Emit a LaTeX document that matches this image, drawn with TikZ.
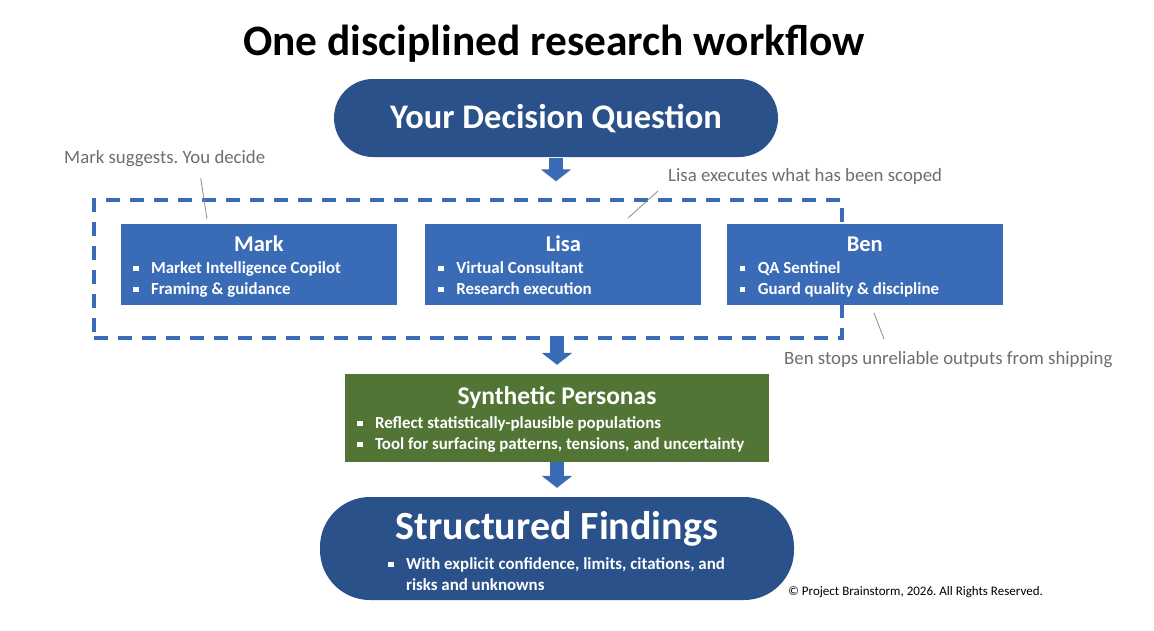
\documentclass[tikz,border=0pt]{standalone}
\usepackage{fontspec}
\setmainfont{Carlito}
\usetikzlibrary{arrows.meta, positioning, calc}
\definecolor{deepblue}{HTML}{2A5189}
\definecolor{midblue}{HTML}{3A6BB7}
\definecolor{leafgreen}{HTML}{527535}
\definecolor{notegray}{HTML}{6E6E6E}
\newcommand{\sqbul}{\strut\rule[0.28ex]{5.5pt}{5.5pt}\hspace{12.5pt}}
\newcommand{\sqgap}{\strut\hspace*{18pt}}
\frenchspacing

\begin{document}
\begin{tikzpicture}[x=1pt, y=-1pt,
    pill/.style={rectangle, fill=deepblue, inner sep=0pt},
    rolebox/.style={rectangle, fill=midblue, minimum width=276pt, minimum height=81pt, inner sep=0pt},
    boxtitle/.style={text=white, inner sep=0pt, font=\bfseries\fontsize{22.5}{26}\selectfont},
    bullets/.style={text=white, align=left, anchor=west, inner sep=0pt, font=\bfseries\fontsize{16.9}{21}\selectfont},
    note/.style={text=notegray, anchor=west, inner sep=0pt, font=\fontsize{18.8}{22}\selectfont},
    callout/.style={draw=notegray!80, line width=0.8pt},
    blockarr/.style={draw=midblue, line width=14pt, -{Triangle[width=30pt, length=12pt]}}]

  \useasboundingbox[fill=white] (0,0) rectangle (1154,630);

  % Title
  \node[inner sep=0pt, font=\bfseries\fontsize{43.4}{50}\selectfont] (title) at (554,44) {One disciplined research workflow};

  % Decision question
  \node[pill, minimum width=444pt, minimum height=78pt, rounded corners=39pt] (question) at (556,118) {};
  \node[text=white, inner sep=0pt, font=\bfseries\fontsize{34.5}{40}\selectfont] (questiontxt) at ($(question)+(0,1)$) {Your Decision Question};

  % Team frame
  \node[draw=midblue, line width=3.5pt, dash pattern=on 14pt off 10pt, minimum width=748pt, minimum height=138pt, inner sep=0pt] (team) at (468,269) {};

  % Roles
  \node[rolebox] (mark) at (259,264.5) {};
  \node[rolebox, right=28pt of mark] (lisa) {};
  \node[rolebox, right=25pt of lisa] (ben) {};

  \node[boxtitle] (marktitle) at ($(mark.north)+(0,20)$) {Mark};
  \node[bullets] (markitems) at ($(mark.north west)+(12,56)$) {\sqbul Market Intelligence Copilot\\ \sqbul Framing \& guidance};

  \node[boxtitle] (lisatitle) at ($(lisa.north)+(0,20)$) {Lisa};
  \node[bullets] (lisaitems) at ($(lisa.north west)+(13,56)$) {\sqbul Virtual Consultant\\ \sqbul Research execution};

  \node[boxtitle] (bentitle) at ($(ben.north)+(0,20)$) {Ben};
  \node[bullets] (benitems) at ($(ben.north west)+(13,56)$) {\sqbul QA Sentinel\\ \sqbul Guard quality \& discipline};

  % Synthetic personas
  \node[rectangle, fill=leafgreen, minimum width=424pt, minimum height=88pt, inner sep=0pt] (personas) at (557,418) {};
  \node[boxtitle, font=\bfseries\fontsize{25.5}{30}\selectfont] (personastitle) at ($(personas.north)+(0,24)$) {Synthetic Personas};
  \node[bullets] (personasitems) at ($(personas.north west)+(12,61)$) {\sqbul Reflect statistically-plausible populations\\ \sqbul Tool for surfacing patterns, tensions, and uncertainty};

  % Findings
  \node[pill, minimum width=474pt, minimum height=103pt, rounded corners=50pt] (findings) at (557,548.5) {};
  \node[text=white, inner sep=0pt, font=\bfseries\fontsize{40}{46}\selectfont] (findingstitle) at ($(findings.north)+(0,32)$) {Structured Findings};
  \node[bullets] (findingsitems) at ($(findings.north west)+(68,79)$) {\sqbul With explicit confidence, limits, citations, and\\ \sqgap risks and unknowns};

  % Flow arrows
  \draw[blockarr, shorten <=1pt, shorten >=17pt] (question.south) -- (question.south |- team.north);
  \draw[blockarr, shorten >=9pt] (personas.north |- team.south) -- (personas.north);
  \draw[blockarr, shorten >=9pt] (personas.south) -- (findings.north);

  % Notes
  \node[note] (marknote) at (64,159) {Mark suggests. You decide};
  \node[note] (lisanote) at (668,176) {Lisa executes what has been scoped};
  \node[note] (bennote) at (784,360) {Ben stops unreliable outputs from shipping};

  \coordinate (markpin) at (207,219);
  \coordinate (lisapin) at (628,218);
  \coordinate (benpin) at (874,313);
  \draw[callout] ($(marknote.south)+(36,11)$) -- (markpin);
  \draw[callout] ($(lisanote.west)+(-10,15)$) -- (lisapin);
  \draw[callout] ($(bennote.west)+(100,-21)$) -- (benpin);

  \node[anchor=west, inner sep=0pt, font=\fontsize{13}{15}\selectfont] (rights) at (788,592) {© Project Brainstorm, 2026. All Rights Reserved.};
\end{tikzpicture}
\end{document}
